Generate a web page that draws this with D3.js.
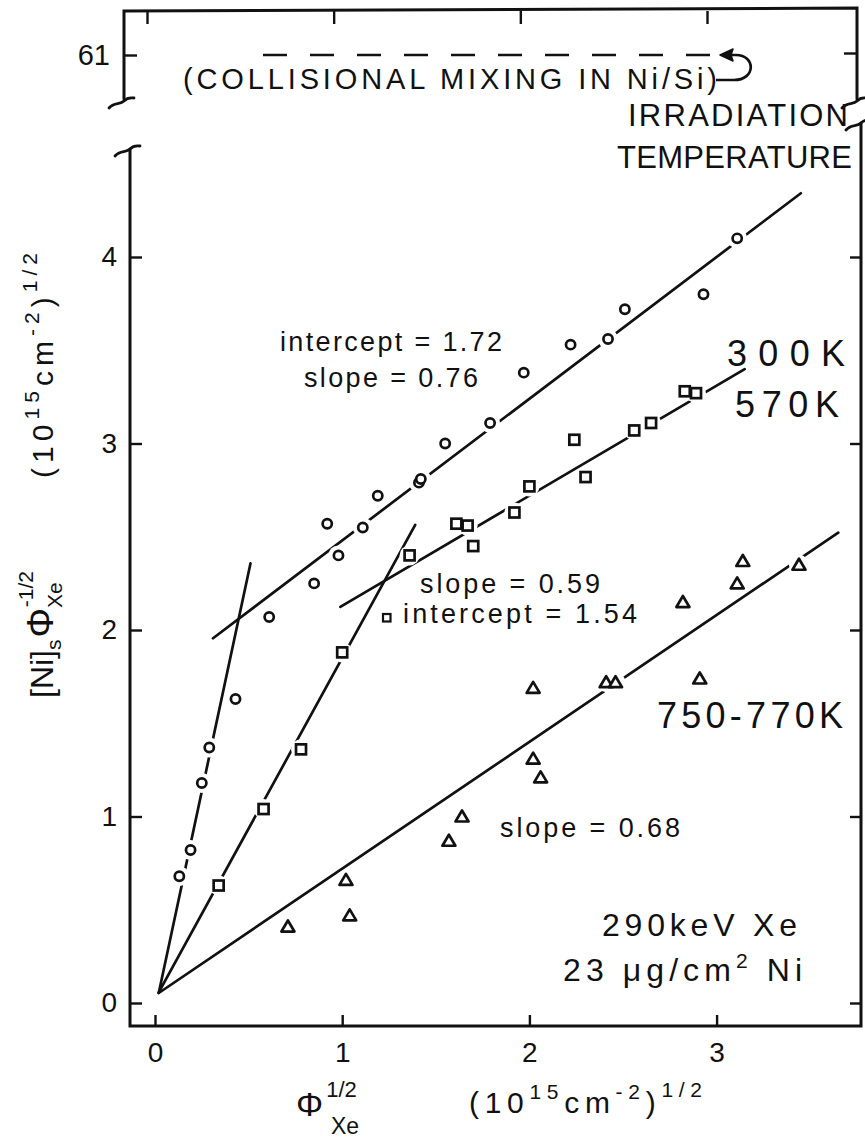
<!DOCTYPE html>
<html>
<head>
<meta charset="utf-8">
<script src="https://cdn.jsdelivr.net/npm/d3@7"></script>
<style>
  body { margin: 0; background: #fff; }
  svg { display: block; }
  text { font-family: "Liberation Sans", Arial, sans-serif; fill: #111; }
</style>
</head>
<body>
<svg id="chart" width="865" height="1141"></svg>
<script>
// ---- data -------------------------------------------------------------
const xTicks = [0, 1, 2, 3];
const yTicks = [0, 1, 2, 3, 4];
const upperTick = [61];          // value on the broken upper strip

// 300 K (circles)
const points300 = [
  [0.13, 0.68], [0.19, 0.82], [0.25, 1.18], [0.29, 1.37], [0.43, 1.63],
  [0.61, 2.07], [0.85, 2.25], [0.92, 2.57], [0.98, 2.40], [1.11, 2.55],
  [1.19, 2.72], [1.41, 2.79], [1.42, 2.81], [1.55, 3.00], [1.79, 3.11],
  [1.97, 3.38], [2.22, 3.53], [2.42, 3.56], [2.51, 3.72], [2.93, 3.80],
  [3.11, 4.10]
];
// 570 K (squares)
const points570 = [
  [0.34, 0.63], [0.58, 1.04], [0.78, 1.36], [1.00, 1.88], [1.36, 2.40],
  [1.61, 2.57], [1.67, 2.56], [1.70, 2.45], [1.92, 2.63], [2.00, 2.77],
  [2.24, 3.02], [2.30, 2.82], [2.56, 3.07], [2.65, 3.11], [2.83, 3.28],
  [2.89, 3.27]
];
// 750-770 K (triangles)
const points750 = [
  [0.71, 0.41], [1.02, 0.66], [1.04, 0.47], [1.57, 0.87], [1.64, 1.00],
  [2.02, 1.69], [2.02, 1.31], [2.06, 1.21], [2.41, 1.72], [2.46, 1.72],
  [2.82, 2.15], [2.91, 1.74], [3.11, 2.25], [3.14, 2.37], [3.44, 2.35]
];

// straight-line fits: y = slope * x + intercept, drawn between xFrom and xTo
const fitSlope     = [4.70, 0.76, 1.83, 0.59, 0.68];
const fitIntercept = [-0.04, 1.72, 0.02, 1.54, 0.04];
const fitFrom      = [0.02, 0.31, 0.02, 0.99, 0.02];
const fitTo        = [0.51, 3.45, 1.39, 3.15, 3.65];

const tempLabels = ["300K", "570K", "750-770K"];

// ---- layout -----------------------------------------------------------
const svg = d3.select("#chart");
const x = d3.scaleLinear().domain([0, 3]).range([155, 716.6]);
const y = d3.scaleLinear().domain([0, 4]).range([1003, 257]);
const yUp = d3.scaleLinear().domain([60.5, 61.5]).range([78, 32]);

const axisLeftX = 130, axisRightX = 861, axisBottomY = 1026;
const upLeftX = 124, upRightX = 857, upTopY = 11;

const ink = "#111";

// ---- frame with broken axes --------------------------------------------
const frame = svg.append("g").attr("fill", "none").attr("stroke", ink)
  .attr("stroke-width", 3).attr("stroke-linecap", "round");

// upper strip
frame.append("path").attr("d",
  `M${upLeftX},99 L${upLeftX},${upTopY} L${upRightX},${upTopY - 3} L${upRightX},99`);
// lower panel
frame.append("path").attr("d",
  `M${axisLeftX},149 L${axisLeftX},${axisBottomY} L${axisRightX},${axisBottomY} L${axisRightX},123`);

// squiggle break marks
function squiggle(cx, cy) {
  return `M${cx - 15},${cy + 7} C${cx - 10},${cy + 1} ${cx - 4},${cy + 4} ${cx},${cy} S${cx + 6},${cy - 3} ${cx + 10},${cy - 3}`;
}
const brk = svg.append("g").attr("fill", "none").attr("stroke", ink)
  .attr("stroke-width", 2.8).attr("stroke-linecap", "round");
brk.append("path").attr("d", squiggle(upLeftX, 101));
brk.append("path").attr("d", squiggle(upRightX, 101));
brk.append("path").attr("d", squiggle(axisLeftX, 149));
brk.append("path").attr("d", squiggle(axisRightX, 123));

// ---- axes ---------------------------------------------------------------
function styleAxis(g, fontSize) {
  g.select(".domain").remove();
  g.selectAll(".tick line").attr("stroke", ink).attr("stroke-width", 2.4);
  g.selectAll(".tick text").attr("font-size", fontSize)
    .attr("font-family", "Liberation Sans, Arial, sans-serif").attr("fill", ink);
}

svg.append("g").attr("transform", `translate(0,${axisBottomY})`)
  .call(d3.axisBottom(x).tickValues(xTicks).tickFormat(d3.format("d"))
    .tickSizeInner(-11).tickSizeOuter(0).tickPadding(16))
  .call(g => styleAxis(g, 28));

svg.append("g").attr("transform", `translate(${axisLeftX},0)`)
  .call(d3.axisLeft(y).tickValues(yTicks).tickFormat(d3.format("d"))
    .tickSizeInner(-12).tickSizeOuter(0).tickPadding(13))
  .call(g => styleAxis(g, 28));

svg.append("g").attr("transform", `translate(${axisRightX},0)`)
  .call(d3.axisRight(y).tickValues(yTicks).tickFormat("")
    .tickSizeInner(-11).tickSizeOuter(0))
  .call(g => styleAxis(g, 28));

svg.append("g").attr("transform", `translate(0,${upTopY})`)
  .call(d3.axisTop(x.copy().range([147, 707])).tickValues(xTicks).tickFormat("")
    .tickSizeInner(-13).tickSizeOuter(0))
  .call(g => styleAxis(g, 28));

svg.append("g").attr("transform", `translate(${upLeftX},0)`)
  .call(d3.axisLeft(yUp).tickValues(upperTick).tickFormat(d3.format("d"))
    .tickSizeInner(-13).tickSizeOuter(0).tickPadding(14))
  .call(g => styleAxis(g, 29));

svg.append("g").attr("transform", `translate(${upRightX},-2)`)
  .call(d3.axisRight(yUp).tickValues(upperTick).tickFormat("")
    .tickSizeInner(-13).tickSizeOuter(0))
  .call(g => styleAxis(g, 28));

// ---- fit lines -------------------------------------------------------------
const line = d3.line().x(d => x(d[0])).y(d => y(d[1]));
const fits = fitSlope.map((s, i) => [
  [fitFrom[i], s * fitFrom[i] + fitIntercept[i]],
  [fitTo[i],   s * fitTo[i]   + fitIntercept[i]]
]);
svg.append("g").selectAll("path").data(fits).join("path")
  .attr("d", line).attr("fill", "none").attr("stroke", ink)
  .attr("stroke-width", 2.7).attr("stroke-linecap", "round");

// ---- markers (white halo breaks the fit line around each point) ------------
const allPoints = points300.concat(points570, points750);
svg.append("g").selectAll("circle").data(allPoints).join("circle")
  .attr("cx", d => x(d[0])).attr("cy", d => y(d[1])).attr("r", 10).attr("fill", "#fff");

const mk = svg.append("g").attr("fill", "#fff").attr("stroke", ink).attr("stroke-width", 2.7);
mk.selectAll("circle").data(points300).join("circle")
  .attr("cx", d => x(d[0])).attr("cy", d => y(d[1])).attr("r", 4.6);
mk.selectAll("rect").data(points570).join("rect")
  .attr("x", d => x(d[0]) - 5).attr("y", d => y(d[1]) - 5)
  .attr("width", 10).attr("height", 10);
mk.selectAll("path").data(points750).join("path")
  .attr("d", d => {
    const cx = x(d[0]), cy = y(d[1]);
    return `M${cx - 6.5},${cy + 5} L${cx + 6.5},${cy + 5} L${cx},${cy - 6} Z`;
  }).attr("stroke-linejoin", "round");

// ---- annotation text ---------------------------------------------------------
function label(txt, x0, yb, size, len) {
  const t = svg.append("text").attr("x", x0).attr("y", yb)
    .attr("font-size", size).text(txt);
  if (len) t.attr("textLength", len).attr("lengthAdjust", "spacing");
  return t;
}

label(`intercept = ${fitIntercept[1].toFixed(2)}`, 280, 351, 27, 222);
label(`slope = ${fitSlope[1].toFixed(2)}`, 304, 387, 27, 174);
label(`slope = ${fitSlope[3].toFixed(2)}`, 420, 593, 27, 180);
label(`intercept = ${fitIntercept[3].toFixed(2)}`, 403, 623, 27, 234);
svg.append("rect").attr("x", 383).attr("y", 614).attr("width", 7.5).attr("height", 7.5)
  .attr("fill", "#fff").attr("stroke", ink).attr("stroke-width", 2.2);
label(`slope = ${fitSlope[4].toFixed(2)}`, 500, 837, 27, 180);

label(tempLabels[0], 727, 366, 36, 118);
label(tempLabels[1], 735, 417, 36, 104);
label(tempLabels[2], 657, 728, 36, 186);

label("IRRADIATION", 628, 126, 31, 220);
label("TEMPERATURE", 617, 168, 31, 235);

label("290keV  Xe", 602, 936, 32, 195);
const ni = svg.append("text").attr("x", 563).attr("y", 981).attr("font-size", 32)
  .attr("textLength", 239).attr("lengthAdjust", "spacing");
ni.append("tspan").text("23 \u03bcg/cm");
ni.append("tspan").attr("font-size", 21).attr("dy", -13).text("2");
ni.append("tspan").attr("dy", 13).text(" Ni");

// collisional mixing level on the upper strip
svg.append("line").attr("x1", 263).attr("x2", 717)
  .attr("y1", yUp(61)).attr("y2", yUp(61))
  .attr("stroke", ink).attr("stroke-width", 2.7).attr("stroke-dasharray", "24,23");
label("(COLLISIONAL MIXING IN Ni/Si)", 183, 89, 29, 534);
svg.append("path")
  .attr("d", `M716,80 L734,80 C756,80 756,55 736,55 L730,55`)
  .attr("fill", "none").attr("stroke", ink).attr("stroke-width", 2.7);
svg.append("path")
  .attr("d", `M720,55 L733,49 L731,55 L733,61 Z`).attr("fill", ink).attr("stroke", ink)
  .attr("stroke-width", 1.5).attr("stroke-linejoin", "round");

// ---- axis titles ---------------------------------------------------------------
const xt = svg.append("text").attr("x", 296).attr("y", 1116).attr("font-size", 34);
xt.append("tspan").text("\u03a6");
xt.append("tspan").attr("font-size", 22).attr("dx", 3).attr("dy", -19).text("1/2");
xt.append("tspan").attr("font-size", 23).attr("x", 331).attr("dy", 37).text("Xe");

const xu = svg.append("text").attr("x", 469).attr("y", 1113).attr("font-size", 30)
  .attr("textLength", 233).attr("lengthAdjust", "spacing");
xu.append("tspan").text("(10");
xu.append("tspan").attr("font-size", 21).attr("dy", -14).text("15");
xu.append("tspan").attr("dy", 14).text("cm");
xu.append("tspan").attr("font-size", 21).attr("dy", -14).text("-2");
xu.append("tspan").attr("dy", 14).text(")");
xu.append("tspan").attr("font-size", 21).attr("dy", -16).text("1/2");

const yt1 = svg.append("text").attr("transform", "translate(53,698) rotate(-90)")
  .attr("font-size", 32);
yt1.append("tspan").text("[Ni]");
yt1.append("tspan").attr("font-size", 21).attr("dy", 8).text("s");
yt1.append("tspan").attr("font-size", 37).attr("dx", 2).attr("dy", -8).text("\u03a6");
yt1.append("tspan").attr("font-size", 21).attr("dy", 9).text("Xe");
yt1.append("tspan").attr("font-size", 21).attr("dx", -25).attr("dy", -29).text("-1/2");

const yt2 = svg.append("text").attr("transform", "translate(53,478) rotate(-90)")
  .attr("font-size", 30).attr("textLength", 225).attr("lengthAdjust", "spacing");
yt2.append("tspan").text("(10");
yt2.append("tspan").attr("font-size", 21).attr("dy", -14).text("15");
yt2.append("tspan").attr("dy", 14).text("cm");
yt2.append("tspan").attr("font-size", 21).attr("dy", -14).text("-2");
yt2.append("tspan").attr("dy", 14).text(")");
yt2.append("tspan").attr("font-size", 21).attr("dy", -16).text("1/2");
</script>
</body>
</html>
